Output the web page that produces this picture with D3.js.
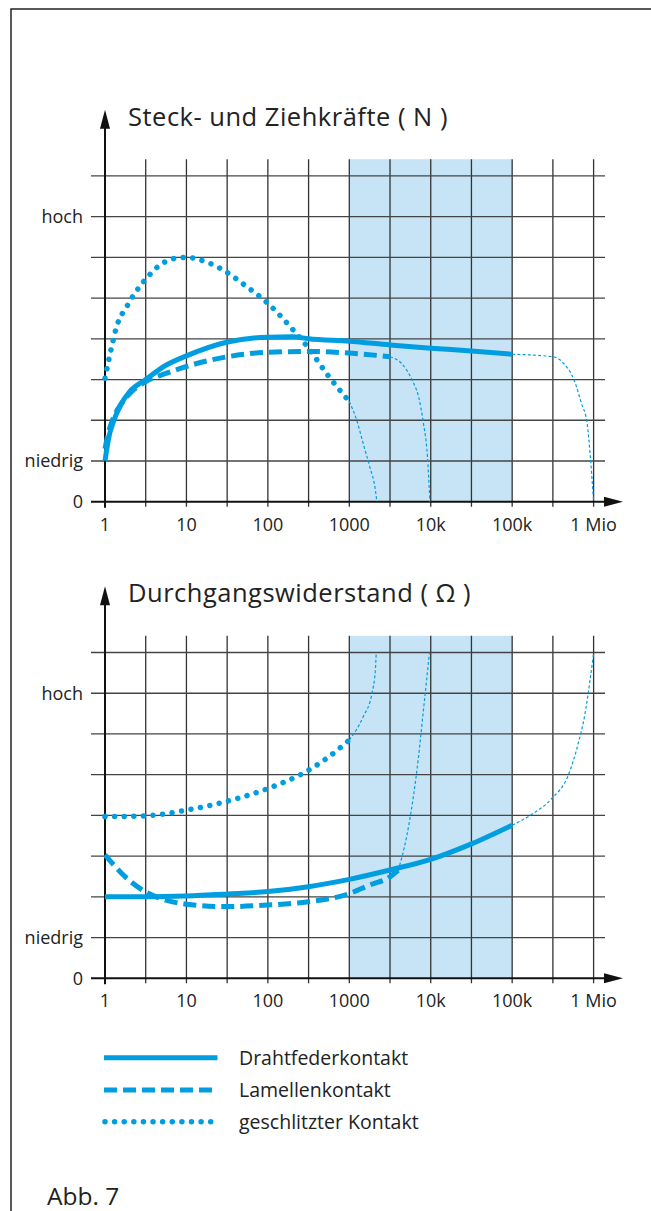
<!DOCTYPE html>
<html>
<head>
<meta charset="utf-8">
<script src="https://cdn.jsdelivr.net/npm/d3@7"></script>
<style>
  body { margin: 0; background: #fff; }
  svg { display: block; font-family: "Open Sans", "Noto Sans", sans-serif; }
  text { fill: #222; }
</style>
</head>
<body>
<script>
var w = 651;
var h = 1211;

// x: Steckzyklen, y: 0..8 (1 = niedrig, 7 = hoch)
var xTicks = [1, 10, 100, 1000, 10000, 100000, 1000000];
var xTickLabels = ['1', '10', '100', '1000', '10k', '100k', '1 Mio'];
var yLabels = [{v: 7, t: 'hoch'}, {v: 1, t: 'niedrig'}, {v: 0, t: '0'}];
var band = [1000, 100000];

// Steck- und Ziehkräfte
var forceDrahtX = [1, 1.12, 1.26, 1.58, 2, 3.16, 5.6, 10, 32, 100, 200, 316, 1000, 3160, 10000, 31600, 100000];
var forceDrahtY = [1.0, 1.6, 1.95, 2.4, 2.7, 3.0, 3.35, 3.58, 3.92, 4.04, 4.05, 4.0, 3.94, 3.85, 3.77, 3.7, 3.62];
var forceDrahtTailX = [100000, 316000, 427000, 575000, 708000, 832000, 912000, 1000000];
var forceDrahtTailY = [3.62, 3.56, 3.4, 2.99, 2.42, 1.93, 1.1, 0];
var forceLamX = [1, 1.12, 1.26, 1.58, 2, 3.16, 5.6, 10, 32, 100, 316, 1000, 3160];
var forceLamY = [1.3, 1.75, 2.05, 2.4, 2.65, 2.95, 3.15, 3.32, 3.56, 3.67, 3.69, 3.65, 3.56];
var forceLamTailX = [3160, 4365, 5890, 7080, 8130, 9120, 9770];
var forceLamTailY = [3.56, 3.4, 2.99, 2.58, 1.93, 1.1, 0];
var forceSchlX = [1, 1.21, 1.39, 1.85, 2.33, 3.24, 4.8, 7, 10, 14, 26, 55, 100, 204, 316, 525, 1000];
var forceSchlY = [3.03, 3.81, 4.3, 4.79, 5.12, 5.49, 5.82, 5.97, 6.0, 5.95, 5.73, 5.28, 4.87, 4.22, 3.77, 3.15, 2.46];
var forceSchlTailX = [1000, 1230, 1480, 1780, 2090, 2180];
var forceSchlTailY = [2.46, 2.01, 1.43, 0.86, 0.29, 0];

// Durchgangswiderstand
var resDrahtX = [1, 3.16, 10, 32, 100, 316, 1000, 3160, 10000, 31600, 100000];
var resDrahtY = [2.0, 2.0, 2.02, 2.07, 2.13, 2.25, 2.43, 2.66, 2.92, 3.3, 3.76];
var resDrahtTailX = [100000, 166000, 305000, 490000, 646000, 785000, 904000, 1000000];
var resDrahtTailY = [3.76, 4.0, 4.41, 4.99, 5.76, 6.5, 7.32, 7.98];
var resLamX = [1, 1.78, 3.16, 5.6, 10, 32, 100, 316, 1000, 1780, 3160, 3980];
var resLamY = [3.03, 2.49, 2.12, 1.92, 1.82, 1.76, 1.8, 1.88, 2.08, 2.29, 2.49, 2.65];
var resLamTailX = [3980, 5050, 6120, 7080, 8130, 8900, 9600];
var resLamTailY = [2.65, 3.47, 4.46, 5.44, 6.58, 7.32, 7.98];
var resSchlX = [1, 3.16, 10, 32, 100, 316, 562, 1000];
var resSchlY = [3.97, 3.99, 4.13, 4.35, 4.66, 5.11, 5.44, 5.85];
var resSchlTailX = [1000, 1480, 1900, 2090, 2140];
var resSchlTailY = [5.85, 6.42, 7.0, 7.57, 7.98];

var legendNames = ['Drahtfederkontakt', 'Lamellenkontakt', 'geschlitzter Kontakt'];

var blue = '#009ee0';
var styles = {
	solid: {width: 5, dash: null, cap: 'butt'},
	dash: {width: 5, dash: '13,6', cap: 'butt'},
	dot: {width: 5.5, dash: '0.01,9.6', cap: 'round'},
	thin: {width: 1.2, dash: '3,2.2', cap: 'butt'}
};

function zip(xs, ys) {
	return xs.map(function(x, i) { return [x, ys[i]]; });
}

var svg = d3.select('body')
			.append('svg')
			.attr('width', w)
			.attr('height', h);

// rahmen
svg.append('path')
	.attr('d', 'M11,' + h + 'V9H' + w)
	.attr('fill', 'none')
	.attr('stroke', '#222')
	.attr('stroke-width', 1.5);

var x = d3.scaleLog().domain([1, 1e6]).range([105, 593.6]);

function chart(axisY, title, series) {
	var y = d3.scaleLinear().domain([0, 8]).range([axisY, axisY - 325.8]);
	var g = svg.append('g');
	var gridTop = axisY - 342.5;

	g.append('rect')
		.attr('x', x(band[0]))
		.attr('y', gridTop)
		.attr('width', x(band[1]) - x(band[0]))
		.attr('height', axisY - gridTop)
		.attr('fill', '#c6e4f5');

	var halfDecades = d3.range(1, 13).map(function(k) { return Math.pow(10, k / 2); });
	g.selectAll('.vgrid')
		.data(halfDecades)
		.enter()
		.append('line')
		.attr('x1', function(d) { return x(d); })
		.attr('x2', function(d) { return x(d); })
		.attr('y1', gridTop)
		.attr('y2', axisY + 5)
		.attr('stroke', '#333')
		.attr('stroke-width', 1.3);

	g.selectAll('.hgrid')
		.data(d3.range(1, 9))
		.enter()
		.append('line')
		.attr('x1', 91)
		.attr('x2', 605)
		.attr('y1', function(d) { return y(d); })
		.attr('y2', function(d) { return y(d); })
		.attr('stroke', '#444')
		.attr('stroke-width', 1.3);

	// achsen
	g.append('line')
		.attr('x1', 91).attr('x2', 610)
		.attr('y1', axisY).attr('y2', axisY)
		.attr('stroke', '#111').attr('stroke-width', 2);
	g.append('path')
		.attr('d', 'M623,' + axisY + 'l-19,-5v10z')
		.attr('fill', '#111');
	g.append('line')
		.attr('x1', x(1)).attr('x2', x(1))
		.attr('y1', axisY + 6).attr('y2', axisY - 378)
		.attr('stroke', '#111').attr('stroke-width', 2);
	g.append('path')
		.attr('d', 'M' + x(1) + ',' + (axisY - 392) + 'l-5,19h10z')
		.attr('fill', '#111');

	g.append('text')
		.attr('x', 128)
		.attr('y', axisY - 376)
		.attr('font-size', 25.5)
		.attr('letter-spacing', 0.5)
		.text(title);

	g.selectAll('.ylab')
		.data(yLabels)
		.enter()
		.append('text')
		.attr('x', 83)
		.attr('y', function(d) { return y(d.v) + 6.5; })
		.attr('text-anchor', 'end')
		.attr('font-size', 18)
		.text(function(d) { return d.t; });

	g.selectAll('.xlab')
		.data(xTicks)
		.enter()
		.append('text')
		.attr('x', function(d) { return x(d); })
		.attr('y', axisY + 29)
		.attr('text-anchor', 'middle')
		.attr('font-size', 18)
		.text(function(d, i) { return xTickLabels[i]; });

	var line = d3.line()
		.x(function(d) { return x(d[0]); })
		.y(function(d) { return y(d[1]); })
		.curve(d3.curveMonotoneX);

	series.forEach(function(s) {
		var st = styles[s.style];
		g.append('path')
			.attr('d', line(s.pts))
			.attr('fill', 'none')
			.attr('stroke', blue)
			.attr('stroke-width', st.width)
			.attr('stroke-dasharray', st.dash)
			.attr('stroke-linecap', st.cap);
	});
}

chart(501.7, 'Steck- und Ziehkräfte ( N )', [
	{style: 'thin', pts: zip(forceDrahtTailX, forceDrahtTailY)},
	{style: 'thin', pts: zip(forceLamTailX, forceLamTailY)},
	{style: 'thin', pts: zip(forceSchlTailX, forceSchlTailY)},
	{style: 'dot', pts: zip(forceSchlX, forceSchlY)},
	{style: 'dash', pts: zip(forceLamX, forceLamY)},
	{style: 'solid', pts: zip(forceDrahtX, forceDrahtY)}
]);

chart(978.3, 'Durchgangswiderstand ( Ω )', [
	{style: 'thin', pts: zip(resDrahtTailX, resDrahtTailY)},
	{style: 'thin', pts: zip(resLamTailX, resLamTailY)},
	{style: 'thin', pts: zip(resSchlTailX, resSchlTailY)},
	{style: 'dot', pts: zip(resSchlX, resSchlY)},
	{style: 'dash', pts: zip(resLamX, resLamY)},
	{style: 'solid', pts: zip(resDrahtX, resDrahtY)}
]);

// legende
var legStyles = ['solid', 'dash', 'dot'];
var legY = [1057.7, 1090, 1121.7];
var leg = svg.selectAll('.leg')
	.data(legendNames)
	.enter()
	.append('g');
leg.append('line')
	.attr('x1', function(d, i) { return legStyles[i] === 'dot' ? 105 : 104; })
	.attr('x2', 217.5)
	.attr('y1', function(d, i) { return legY[i]; })
	.attr('y2', function(d, i) { return legY[i]; })
	.attr('stroke', blue)
	.attr('stroke-width', function(d, i) { return styles[legStyles[i]].width; })
	.attr('stroke-dasharray', function(d, i) { return styles[legStyles[i]].dash; })
	.attr('stroke-linecap', function(d, i) { return styles[legStyles[i]].cap; });
leg.append('text')
	.attr('x', 239)
	.attr('y', function(d, i) { return legY[i] + 7; })
	.attr('font-size', 19.5)
	.text(function(d) { return d; });

svg.append('text')
	.attr('x', 47)
	.attr('y', 1205)
	.attr('font-size', 24.5)
	.text('Abb. 7');
</script>
</body>
</html>
